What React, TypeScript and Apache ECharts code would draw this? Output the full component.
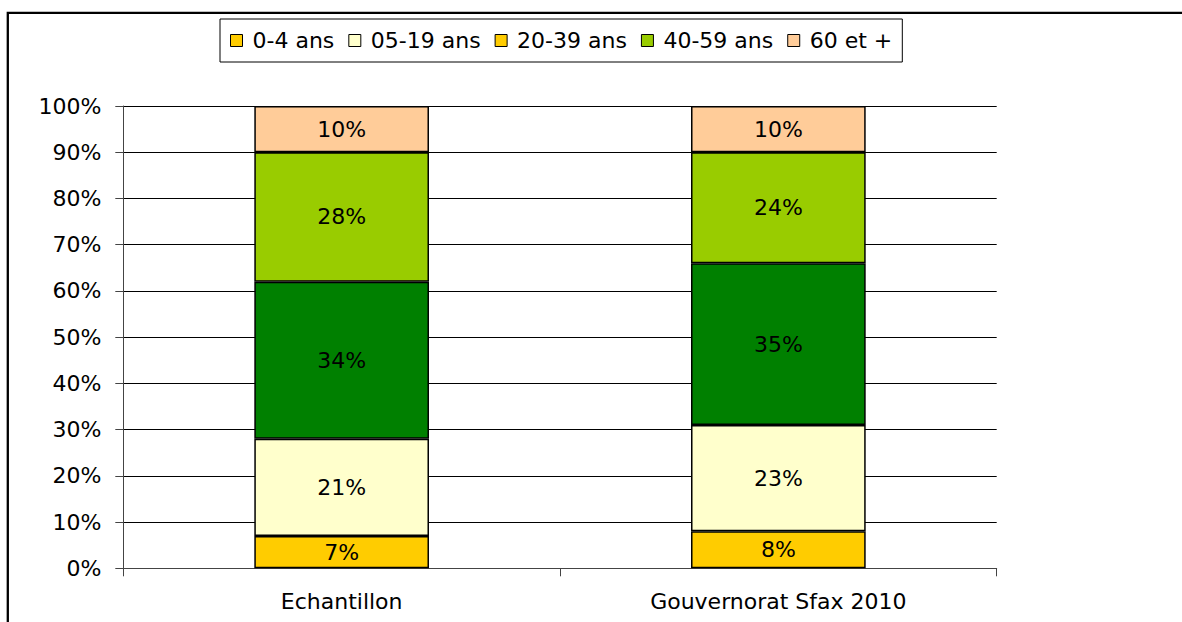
import React, { useEffect, useRef } from "react";
import * as echarts from "echarts";

const categories = ["Echantillon", "Gouvernorat Sfax 2010"];
const seriesNames = ["0-4 ans", "05-19 ans", "20-39 ans", "40-59 ans", "60 et +"];
const age0_4 = [7, 8];
const age5_19 = [21, 23];
const age20_39 = [34, 35];
const age40_59 = [28, 24];
const age60plus = [10, 10];
const yTicks = [0, 10, 20, 30, 40, 50, 60, 70, 80, 90, 100];

const seriesData = [age0_4, age5_19, age20_39, age40_59, age60plus];
const barColors = ["#FFCC00", "#FFFFCC", "#008000", "#99CC00", "#FFCC99"];
const legendColors = ["#FFCC00", "#FFFFCC", "#FFCC00", "#99CC00", "#FFCC99"];

const FONT = "DejaVu Sans";

export default function App() {
  const ref = useRef<HTMLDivElement>(null);
  useEffect(() => {
    if (!ref.current) return;
    const chart = echarts.init(ref.current, null, { renderer: "svg" });
    chart.setOption({
      animation: false,
      backgroundColor: "#ffffff",
      textStyle: { fontFamily: FONT },
      graphic: [
        {
          type: "rect",
          shape: { x: 7.8, y: 12.8, width: 1400, height: 900 },
          style: { fill: "none", stroke: "#000", lineWidth: 2.3 },
          silent: true,
        },
      ],
      legend: {
        left: 220,
        top: 19,
        orient: "horizontal",
        padding: [10.5, 10, 10.5, 10],
        borderColor: "#000",
        borderWidth: 1,
        itemWidth: 12,
        itemHeight: 12,
        itemGap: 14,
        icon: "rect",
        itemStyle: { borderColor: "#000", borderWidth: 1 },
        textStyle: {
          fontFamily: FONT,
          fontSize: 22,
          color: "#000",
          padding: [0, 0, 0, 5],
          lineHeight: 22,
        },
        data: seriesNames.map((n, i) => ({
          name: n,
          itemStyle: { color: legendColors[i], borderColor: "#000", borderWidth: 1 },
        })),
      },
      grid: { left: 123.3, right: 185.3, top: 106, bottom: 53.7 },
      xAxis: {
        type: "category",
        data: categories,
        axisLine: { show: true, lineStyle: { color: "#444", width: 1 } },
        axisTick: { show: true, length: 8, lineStyle: { color: "#444" } },
        axisLabel: {
          fontFamily: FONT,
          fontSize: 22,
          color: "#000",
          margin: 22,
        },
        splitLine: { show: false },
      },
      yAxis: {
        type: "value",
        min: yTicks[0],
        max: yTicks[yTicks.length - 1],
        interval: 10,
        axisLine: { show: true, lineStyle: { color: "#444", width: 1 } },
        axisTick: { show: true, length: 8, lineStyle: { color: "#444" } },
        axisLabel: {
          fontFamily: FONT,
          fontSize: 22,
          color: "#000",
          margin: 22,
          formatter: "{value}%",
        },
        splitLine: { show: true, lineStyle: { color: "#000", width: 1 } },
      },
      series: seriesNames.map((name, i) => ({
        name,
        type: "bar",
        stack: "total",
        barWidth: "40%",
        data: seriesData[i],
        itemStyle: { color: barColors[i], borderColor: "#000", borderWidth: 1.5 },
        label: {
          show: true,
          position: "inside",
          formatter: "{c}%",
          fontFamily: FONT,
          fontSize: 22,
          color: "#000",
        },
      })),
    });
    return () => chart.dispose();
  }, []);
  return (
    <div
      ref={ref}
      style={{ position: "absolute", left: 0, top: 0, width: 1182, height: 622 }}
    />
  );
}
